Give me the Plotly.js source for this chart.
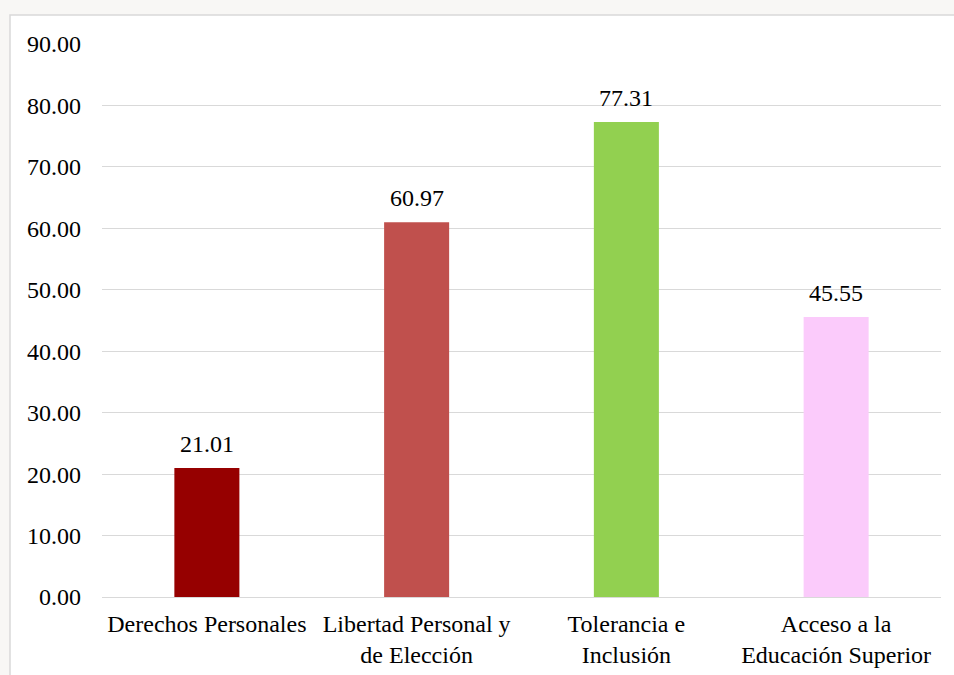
<!DOCTYPE html>
<html>
<head>
<meta charset="utf-8">
<script src="https://cdn.plot.ly/plotly-3.0.1.min.js"></script>
<style>
  html, body { margin: 0; padding: 0; background: #f8f7f5; }
  #chart { width: 954px; height: 675px; }
</style>
</head>
<body>
<div id="chart"></div>
<script>
const categories = [
  "Derechos Personales",
  "Libertad Personal y<br>de Elección",
  "Tolerancia e<br>Inclusión",
  "Acceso a la<br>Educación Superior"
];
const values = [21.01, 60.97, 77.31, 45.55];
const barColors = ["#960000", "#c0504d", "#92d050", "#fbcbfb"];
const tickVals = [0, 10, 20, 30, 40, 50, 60, 70, 80, 90];
const tickLabels = tickVals.map(v => v.toFixed(2));

const font = { family: "Liberation Serif", size: 24, color: "#000000" };

const trace = {
  type: "bar",
  x: categories,
  y: values,
  marker: { color: barColors },
  hoverinfo: "skip"
};

const annotations = categories.map((c, i) => ({
  x: c,
  y: values[i],
  xref: "x",
  yref: "y",
  text: values[i].toFixed(2),
  showarrow: false,
  yanchor: "bottom",
  yshift: 9,
  font: font
}));

const layout = {
  width: 954,
  height: 675,
  margin: { l: 102, r: 13, t: 44, b: 78 },
  paper_bgcolor: "rgba(0,0,0,0)",
  plot_bgcolor: "#ffffff",
  font: font,
  bargap: 0.69,
  showlegend: false,
  annotations: annotations,
  xaxis: {
    tickfont: font,
    showgrid: false,
    zeroline: false,
    showline: false,
    ticks: "",
    ticklabelstandoff: 10
  },
  yaxis: {
    range: [0, 90],
    tickvals: tickVals,
    ticktext: tickLabels,
    tickfont: font,
    showgrid: true,
    gridcolor: "#d9d9d9",
    gridwidth: 1,
    zeroline: true,
    zerolinecolor: "#d9d9d9",
    zerolinewidth: 1,
    showline: false,
    ticks: "",
    ticklabelstandoff: 20
  },
  shapes: [
    {
      type: "rect", xref: "paper", yref: "paper", layer: "below",
      x0: -92 / 839, x1: 1.02, y0: -0.2, y1: 1 + 29 / 553,
      fillcolor: "#ffffff",
      line: { color: "#d9d9d9", width: 1.5 }
    }
  ]
};

Plotly.newPlot("chart", [trace], layout, { displayModeBar: false, staticPlot: true });
</script>
</body>
</html>
